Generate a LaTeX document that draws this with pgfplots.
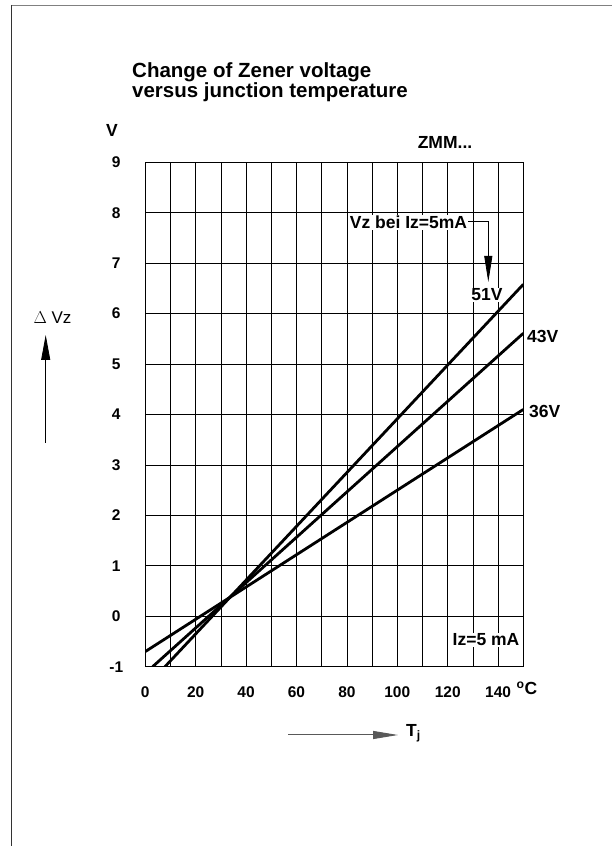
\documentclass[border=0pt]{standalone}
\usepackage{fontspec}
\setmainfont{Liberation Sans}
\usepackage{pgfplots}
\pgfplotsset{compat=1.18}
\usetikzlibrary{arrows.meta}
\begin{document}
\begin{tikzpicture}[x=1pt,y=1pt]
\useasboundingbox (0,0) rectangle (612,846);
% page frame
\draw[line width=1.4pt, color=black!50] (11,840.3) -- (612,840.3);
\draw[line width=1.4pt, color=black!80] (11.3,841) -- (11.3,0);
\begin{axis}[
  at={(145.3pt,179.3pt)}, anchor=south west,
  scale only axis, width=378pt, height=504.4pt,
  xmin=0, xmax=150, ymin=-1, ymax=9,
  xtick={0,20,...,140}, ytick={-1,0,...,9},
  minor xtick={10,30,...,150},
  grid=both,
  major grid style={line width=0.8pt, black},
  minor grid style={line width=0.8pt, black},
  axis line style={line width=0.9pt},
  tick style={draw=none},
  /pgf/number format/assume math mode=true,
  ticklabel style={font=\bfseries\fontsize{15.5}{17}\selectfont},
  yticklabel style={anchor=center, xshift=-29pt},
  xticklabel style={anchor=center, yshift=-25pt},
]
\addplot[black, line width=2.8pt] coordinates {(0,-0.7) (150,4.1)};
\addplot[black, line width=2.8pt] coordinates {(2.9,-1) (150,5.61)};
\addplot[black, line width=2.8pt] coordinates {(7.8,-1) (150,6.58)};
\end{axis}
\begin{scope}[every node/.style={font=\bfseries\fontsize{17.5}{19}\selectfont, inner sep=0pt}]
\node[anchor=west, font=\bfseries\fontsize{20.5}{22}\selectfont] at (132,846-72) {Change of Zener voltage};
\node[anchor=west, font=\bfseries\fontsize{20.5}{22}\selectfont] at (132,846-92) {versus junction temperature};
\node at (112,846-130) {V};
\node at (445,846-142) {ZMM...};
\node[fill=white, inner sep=1pt] at (408.5,846-222.5) {Vz bei Iz=5mA};
\draw[line width=0.8pt, -{Triangle[length=26pt,width=8pt]}] (468,846-221) -- (488.3,846-221) -- (488.3,846-282);
\node[fill=white, inner sep=1pt] at (487,846-295) {51V};
\node[anchor=west] at (527,846-336) {43V};
\node[anchor=west] at (529,846-411) {36V};
\node[fill=white, inner sep=1pt] at (486,846-640) {Iz=5 mA};
\node at (527,846-688) {\textsuperscript{o}C};
\node[font=\fontsize{17}{19}\selectfont] at (52.5,846-318) {$\Delta$ Vz};
\draw[line width=0.8pt, -{Triangle[length=25pt,width=9pt]}] (45.7,846-443) -- (45.7,846-335);
\draw[line width=1pt, black!65, -{Triangle[length=25pt,width=8pt]}] (288,846-735) -- (398,846-735);
\node[anchor=west] at (406,846-733) {T\textsubscript{j}};
\end{scope}
\end{tikzpicture}
\end{document}
